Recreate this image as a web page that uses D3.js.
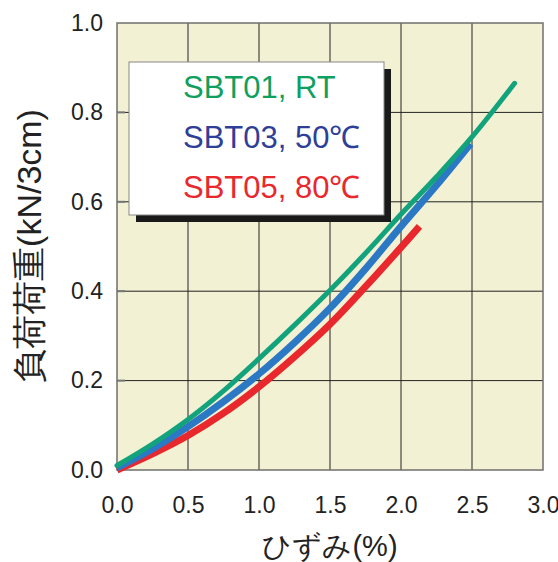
<!DOCTYPE html>
<html>
<head>
<meta charset="utf-8">
<script src="https://cdn.jsdelivr.net/npm/d3@7"></script>
<style>
  body { margin: 0; background: #fff; }
  text { font-family: "Liberation Sans", Arial, sans-serif; }
</style>
</head>
<body>
<script>
var width = 558;
var height = 562;

// data
var xTicks = [0, 0.5, 1.0, 1.5, 2.0, 2.5, 3.0];
var yTicks = [0, 0.2, 0.4, 0.6, 0.8, 1.0];

var rtStrain = [0, 0.25, 0.5, 0.75, 1.0, 1.25, 1.5, 1.75, 2.0, 2.25, 2.5, 2.8];
var rtLoad   = [0.01, 0.058, 0.113, 0.177, 0.249, 0.324, 0.402, 0.485, 0.572, 0.656, 0.745, 0.865];

var t50Strain = [0, 0.25, 0.5, 0.75, 1.0, 1.25, 1.5, 1.75, 2.0, 2.25, 2.49];
var t50Load   = [0.005, 0.047, 0.097, 0.153, 0.215, 0.285, 0.362, 0.45, 0.545, 0.637, 0.73];

var t80Strain = [0, 0.25, 0.5, 0.75, 1.0, 1.25, 1.5, 1.75, 2.0, 2.13];
var t80Load   = [0.0, 0.036, 0.077, 0.127, 0.186, 0.253, 0.326, 0.41, 0.498, 0.545];

var seriesNames = ["SBT01, RT", "SBT03, 50\u2103", "SBT05, 80\u2103"];
var lineColors = ["#12a37c", "#2b78c4", "#e8282d"];
var textColors = ["#0f9f5e", "#2f3f98", "#e8282d"];
var lineWidths = [5, 7, 7];

var svg = d3.select("body").append("svg")
    .attr("width", width)
    .attr("height", height);

var mLeft = 117, mTop = 23, plotW = 426, plotH = 447;

var x = d3.scaleLinear().domain([0, 3]).range([0, plotW]);
var y = d3.scaleLinear().domain([0, 1]).range([plotH, 0]);

var g = svg.append("g")
    .attr("transform", "translate(" + mLeft + "," + mTop + ")");

g.append("rect")
    .attr("width", plotW)
    .attr("height", plotH)
    .attr("fill", "#f3f1d4");

// grid
g.selectAll(".vgrid")
    .data(xTicks.slice(1, -1))
    .enter().append("line")
    .attr("x1", function (d) { return x(d); })
    .attr("x2", function (d) { return x(d); })
    .attr("y1", 0).attr("y2", plotH)
    .attr("stroke", "#222").attr("stroke-width", 1);

g.selectAll(".hgrid")
    .data(yTicks.slice(1, -1))
    .enter().append("line")
    .attr("y1", function (d) { return y(d); })
    .attr("y2", function (d) { return y(d); })
    .attr("x1", 0).attr("x2", plotW)
    .attr("stroke", "#222").attr("stroke-width", 1);

// inner ticks on y axis
g.selectAll(".ytick")
    .data(yTicks.slice(1, -1))
    .enter().append("line")
    .attr("y1", function (d) { return y(d); })
    .attr("y2", function (d) { return y(d); })
    .attr("x1", 0).attr("x2", 8)
    .attr("stroke", "#777").attr("stroke-width", 2);

g.append("rect")
    .attr("width", plotW)
    .attr("height", plotH)
    .attr("fill", "none")
    .attr("stroke", "#6f6f6f")
    .attr("stroke-width", 1.5);

// axes labels
var xAxis = d3.axisBottom(x).tickValues(xTicks).tickSize(0).tickPadding(27)
    .tickFormat(d3.format(".1f"));
var yAxis = d3.axisLeft(y).tickValues(yTicks).tickSize(0).tickPadding(14)
    .tickFormat(d3.format(".1f"));

var gx = g.append("g").attr("transform", "translate(0," + plotH + ")").call(xAxis);
var gy = g.append("g").call(yAxis);
[gx, gy].forEach(function (a) {
    a.select(".domain").remove();
    a.attr("font-size", 23).attr("font-family", "Liberation Sans, Arial, sans-serif");
    a.selectAll("text").attr("fill", "#222");
});

// curves
var data = [
    d3.zip(rtStrain, rtLoad),
    d3.zip(t50Strain, t50Load),
    d3.zip(t80Strain, t80Load)
];

var line = d3.line()
    .x(function (d) { return x(d[0]); })
    .y(function (d) { return y(d[1]); })
    .curve(d3.curveCatmullRom);

// draw red, blue, then green on top
[2, 1, 0].forEach(function (i) {
    g.append("path")
        .datum(data[i])
        .attr("d", line)
        .attr("fill", "none")
        .attr("stroke", lineColors[i])
        .attr("stroke-width", lineWidths[i])
        .attr("stroke-linecap", i === 0 ? "round" : "butt");
});

// legend
var legend = svg.append("g");
legend.append("rect")
    .attr("x", 136).attr("y", 69)
    .attr("width", 255).attr("height", 153)
    .attr("fill", "#1a1a1a");
legend.append("rect")
    .attr("x", 129).attr("y", 62)
    .attr("width", 255).attr("height", 153)
    .attr("fill", "#fff")
    .attr("stroke", "#888").attr("stroke-width", 1);

legend.selectAll(".ltext")
    .data(seriesNames)
    .enter().append("text")
    .attr("x", 183)
    .attr("y", function (d, i) { return 98 + i * 50; })
    .attr("font-size", 31)
    .attr("fill", function (d, i) { return textColors[i]; })
    .text(function (d) { return d; });

// axis titles
svg.append("text")
    .attr("x", mLeft + plotW / 2)
    .attr("y", 556)
    .attr("text-anchor", "middle")
    .attr("font-family", "Noto Sans CJK JP")
    .attr("font-size", 29)
    .attr("fill", "#222")
    .text("ひずみ(%)");

svg.append("text")
    .attr("transform", "translate(41,246) rotate(-90)")
    .attr("text-anchor", "middle")
    .attr("font-family", "Noto Sans CJK JP")
    .attr("font-size", 34)
    .attr("fill", "#222")
    .text("負荷荷重(kN/3cm)");
</script>
</body>
</html>
